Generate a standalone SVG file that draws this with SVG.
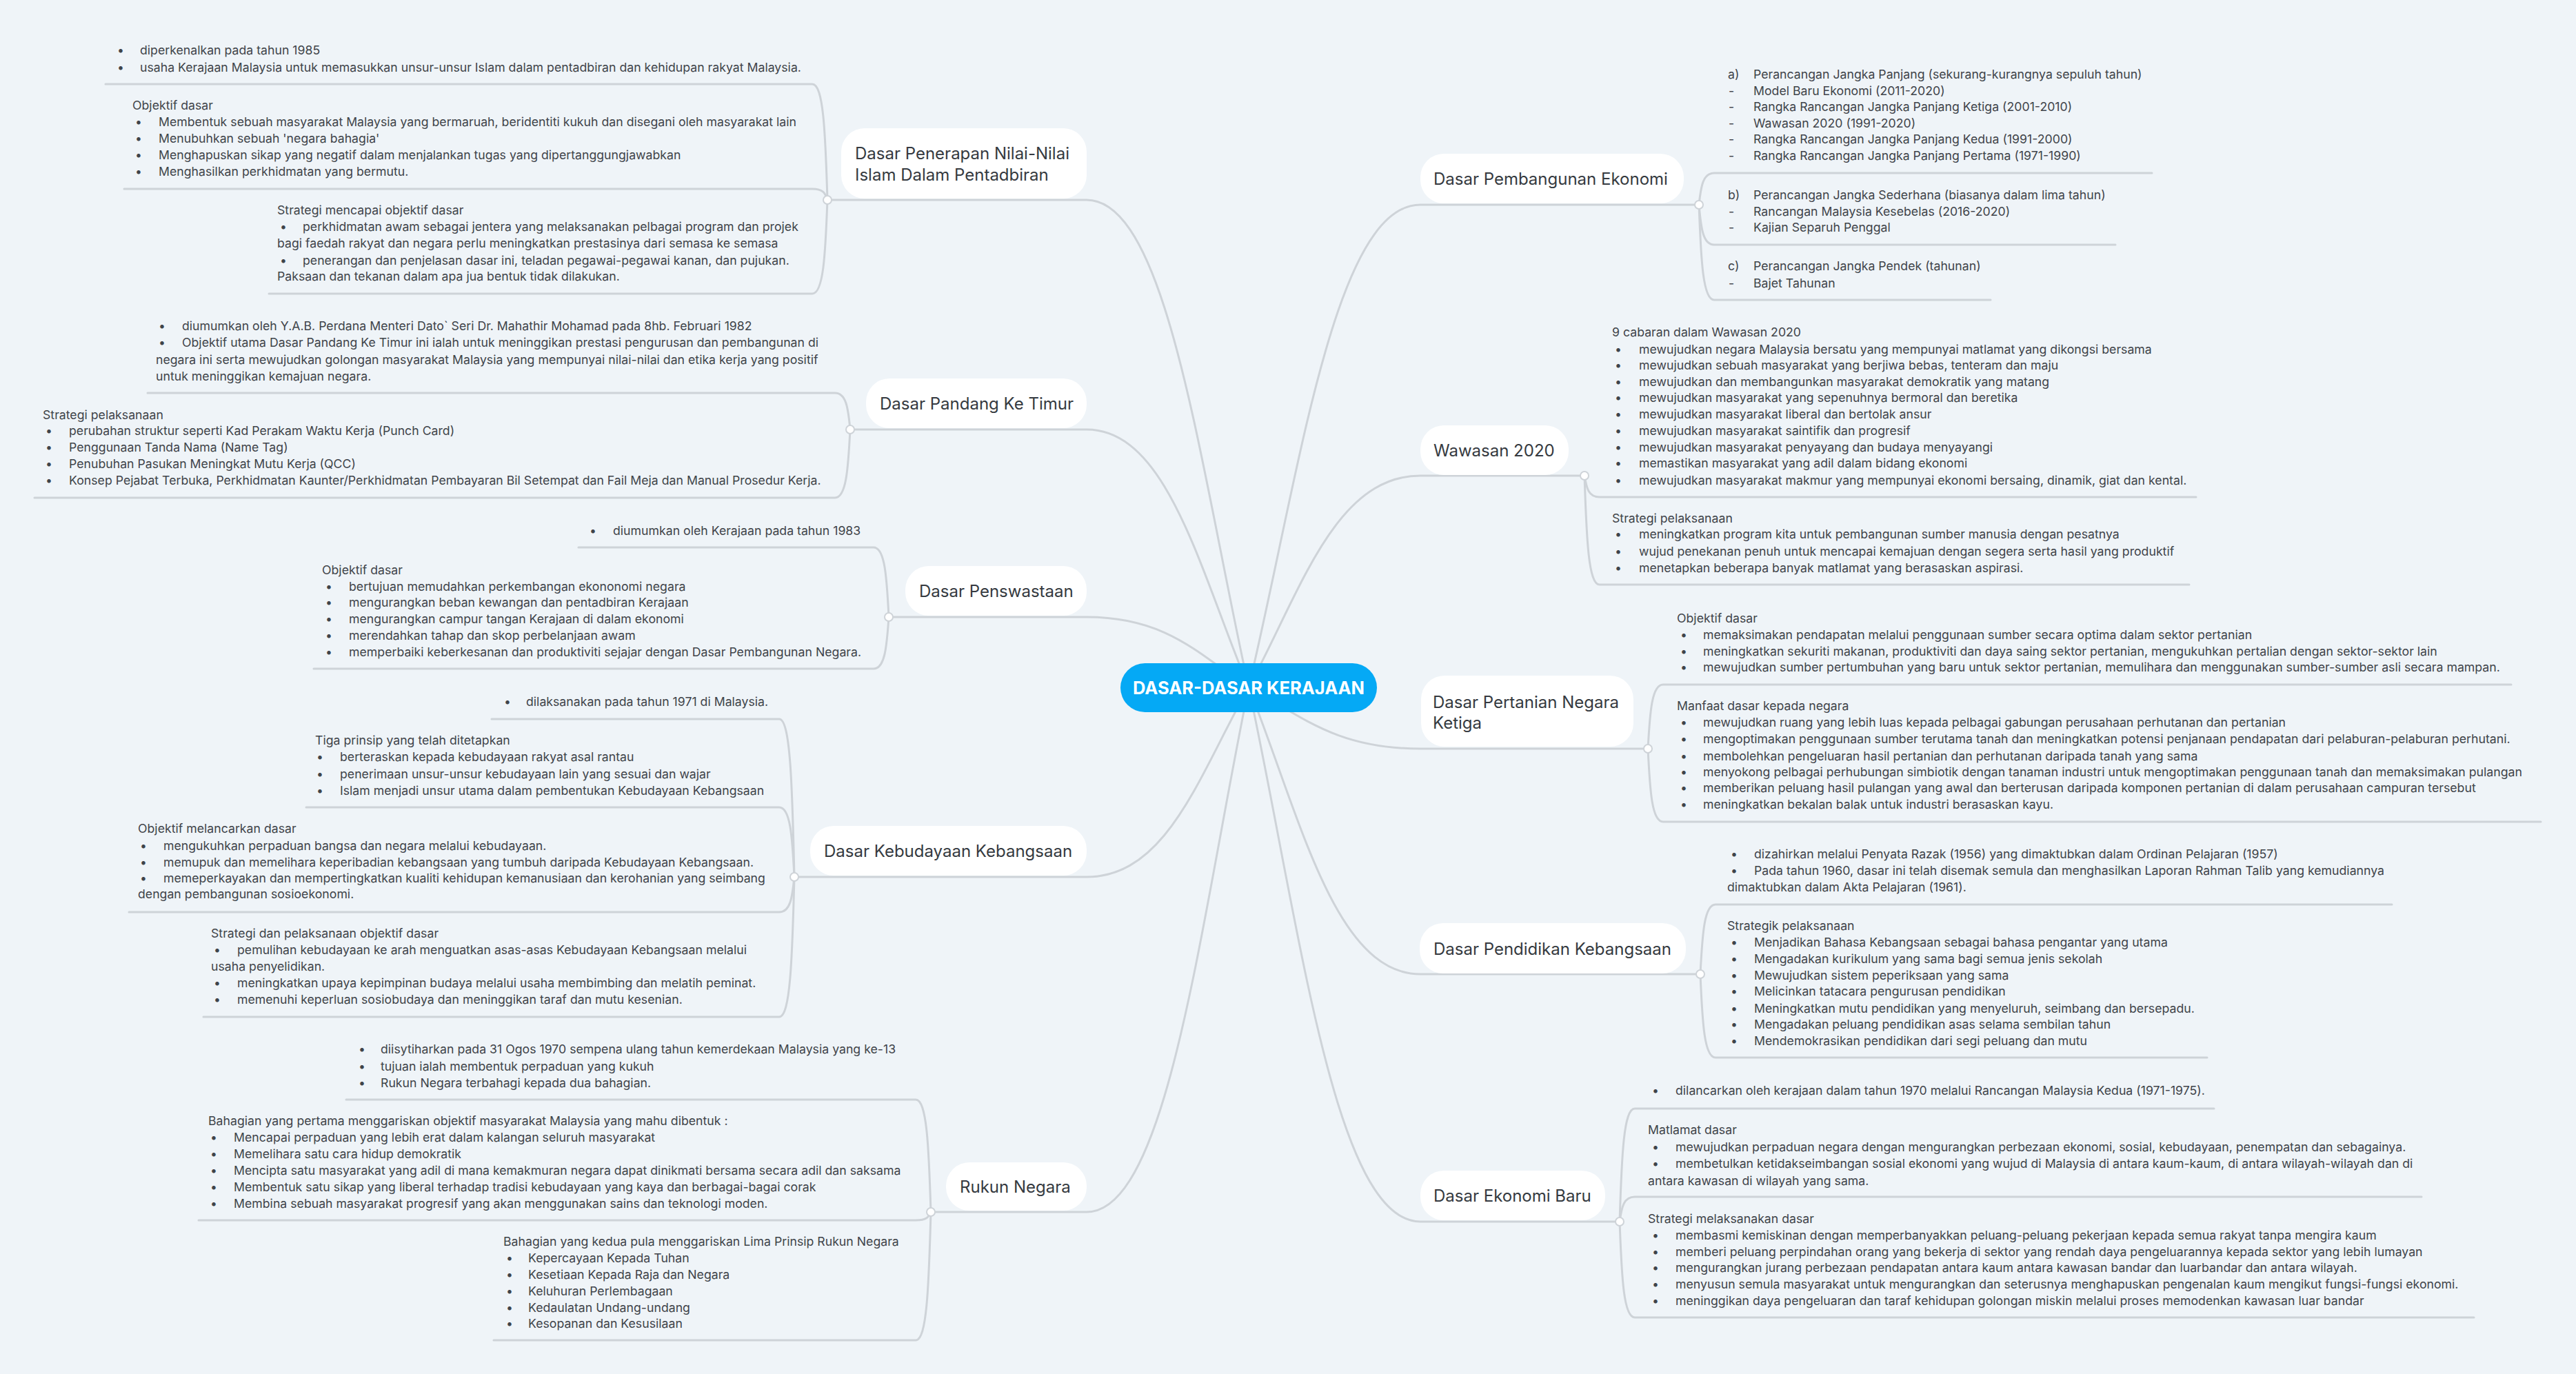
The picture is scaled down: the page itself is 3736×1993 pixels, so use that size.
<svg xmlns="http://www.w3.org/2000/svg" width="3736" height="1993" viewBox="0 0 3736 1993">
<style>
.ln{fill:none;stroke:#CED3D8;stroke-width:3;stroke-linecap:round}
.dot{fill:#FFFFFF;stroke:#CED3D8;stroke-width:2}
.box{fill:#FFFFFF}
.nt{font-family:Inter,'Noto Sans','Liberation Sans',sans-serif;font-size:24px;fill:#353A40}
.t{font-family:Inter,'Noto Sans','Liberation Sans',sans-serif;font-size:17.7px;fill:#3F444A}
.ct{font-family:Inter,'Noto Sans','Liberation Sans',sans-serif;font-size:25.5px;font-weight:700;fill:#FFFFFF}
</style>
<rect x="0" y="0" width="3736" height="1993" fill="#EFF4F8"/>
<g id="connectors">
<path class="ln" d="M1811 997 C1740.5 678.9 1693.5 290 1576 290 H1206"/>
<path class="ln" d="M1811 997 C1740.5 828.7 1693.5 623 1576 623 H1239"/>
<path class="ln" d="M1811 997 C1740.5 951.1 1693.5 895 1576 895 H1295"/>
<path class="ln" d="M1811 997 C1740.5 1120.8 1693.5 1272 1576 1272 H1158"/>
<path class="ln" d="M1811 997 C1740.5 1339.5 1693.5 1758 1576 1758 H1356"/>
<path class="ln" d="M1811 997 C1885.7 682 1935.5 297 2060 297 H2458"/>
<path class="ln" d="M1811 997 C1885.7 858.9 1935.5 690 2060 690 H2292"/>
<path class="ln" d="M1811 997 C1885.7 1037 1935.5 1086 2060 1086 H2384"/>
<path class="ln" d="M1811 997 C1885.7 1184.2 1935.5 1413 2060 1413 H2460"/>
<path class="ln" d="M1811 997 C1885.7 1345.8 1935.5 1772 2060 1772 H2343"/>
<path class="ln" d="M1200 290 C1197 189.2 1194 122 1178 122 H153"/>
<path class="ln" d="M1200 290 C1197 280.4 1194 274 1178 274 H180"/>
<path class="ln" d="M1200 290 C1197 371.6 1194 426 1178 426 H390"/>
<path class="ln" d="M1233 623 C1230 591.2 1227 570 1211 570 H214"/>
<path class="ln" d="M1233 623 C1230 682.4 1227 722 1211 722 H50"/>
<path class="ln" d="M1289 895 C1286 834.4 1283 794 1267 794 H839"/>
<path class="ln" d="M1289 895 C1286 940 1283 970 1267 970 H455"/>
<path class="ln" d="M1152 1272 C1149 1134.6 1146 1043 1130 1043 H713"/>
<path class="ln" d="M1152 1272 C1149 1211.4 1146 1171 1130 1171 H444"/>
<path class="ln" d="M1152 1272 C1149 1302.6 1146 1323 1130 1323 H187"/>
<path class="ln" d="M1152 1272 C1149 1393.8 1146 1475 1130 1475 H295"/>
<path class="ln" d="M1350 1758 C1347 1660.2 1344 1595 1328 1595 H502"/>
<path class="ln" d="M1350 1758 C1347 1765.2 1344 1770 1328 1770 H288"/>
<path class="ln" d="M1350 1758 C1347 1869.6 1344 1944 1328 1944 H716"/>
<path class="ln" d="M2464 297 C2467 269.4 2470 251 2486 251 H3121"/>
<path class="ln" d="M2464 297 C2467 331.8 2470 355 2486 355 H3068"/>
<path class="ln" d="M2464 297 C2467 379.8 2470 435 2486 435 H2887"/>
<path class="ln" d="M2298 690 C2301 708.6 2304 721 2320 721 H3185"/>
<path class="ln" d="M2298 690 C2301 784.8 2304 848 2320 848 H3175"/>
<path class="ln" d="M2390 1086 C2393 1030.2 2396 993 2412 993 H3642"/>
<path class="ln" d="M2390 1086 C2393 1149.6 2396 1192 2412 1192 H3685"/>
<path class="ln" d="M2466 1413 C2469 1352.4 2472 1312 2488 1312 H3469"/>
<path class="ln" d="M2466 1413 C2469 1485.6 2472 1534 2488 1534 H3201"/>
<path class="ln" d="M2349 1772 C2352 1673.6 2355 1608 2371 1608 H3211"/>
<path class="ln" d="M2349 1772 C2352 1750.4 2355 1736 2371 1736 H3512"/>
<path class="ln" d="M2349 1772 C2352 1855.4 2355 1911 2371 1911 H3588"/>
<circle class="dot" cx="1200" cy="290" r="6"/>
<circle class="dot" cx="1233" cy="623" r="6"/>
<circle class="dot" cx="1289" cy="895" r="6"/>
<circle class="dot" cx="1152" cy="1272" r="6"/>
<circle class="dot" cx="1350" cy="1758" r="6"/>
<circle class="dot" cx="2464" cy="297" r="6"/>
<circle class="dot" cx="2298" cy="690" r="6"/>
<circle class="dot" cx="2390" cy="1086" r="6"/>
<circle class="dot" cx="2466" cy="1413" r="6"/>
<circle class="dot" cx="2349" cy="1772" r="6"/>
</g>
<g id="center">
<rect x="1625" y="962" width="372" height="71" rx="35.5" fill="#05A9F5"/>
<text class="ct" x="1811" y="1007" text-anchor="middle">DASAR-DASAR KERAJAAN</text>
</g>
<g id="n-penerapan">
<rect class="box" x="1220" y="186" width="356" height="102" rx="34"/>
<text class="nt" x="1240" y="231">Dasar Penerapan Nilai-Nilai</text>
<text class="nt" x="1240" y="262">Islam Dalam Pentadbiran</text>
</g>
<g id="n-pandang">
<rect class="box" x="1256" y="549" width="320" height="72" rx="34"/>
<text class="nt" x="1276" y="594">Dasar Pandang Ke Timur</text>
</g>
<g id="n-penswastaan">
<rect class="box" x="1313" y="821" width="263" height="72" rx="34"/>
<text class="nt" x="1333" y="866">Dasar Penswastaan</text>
</g>
<g id="n-kebudayaan">
<rect class="box" x="1175" y="1198" width="401" height="72" rx="34"/>
<text class="nt" x="1195" y="1243">Dasar Kebudayaan Kebangsaan</text>
</g>
<g id="n-rukun">
<rect class="box" x="1372" y="1686" width="204" height="70" rx="34"/>
<text class="nt" x="1392" y="1730">Rukun Negara</text>
</g>
<g id="n-ekonomi">
<rect class="box" x="2060" y="223" width="382" height="72" rx="34"/>
<text class="nt" x="2079" y="268">Dasar Pembangunan Ekonomi</text>
</g>
<g id="n-wawasan">
<rect class="box" x="2060" y="617" width="215" height="72" rx="34"/>
<text class="nt" x="2079" y="662">Wawasan 2020</text>
</g>
<g id="n-pertanian">
<rect class="box" x="2061" y="980" width="308" height="103" rx="34"/>
<text class="nt" x="2078" y="1027">Dasar Pertanian Negara</text>
<text class="nt" x="2078" y="1057">Ketiga</text>
</g>
<g id="n-pendidikan">
<rect class="box" x="2059" y="1339" width="386" height="73" rx="34"/>
<text class="nt" x="2079" y="1385">Dasar Pendidikan Kebangsaan</text>
</g>
<g id="n-ekonomibaru">
<rect class="box" x="2060" y="1698" width="268" height="72" rx="34"/>
<text class="nt" x="2079" y="1743">Dasar Ekonomi Baru</text>
</g>
<g id="c-penerapan-1" class="t">
<text y="79"><tspan x="170">•</tspan><tspan x="203">diperkenalkan pada tahun 1985</tspan></text>
<text y="104"><tspan x="170">•</tspan><tspan x="203">usaha Kerajaan Malaysia untuk memasukkan unsur-unsur Islam dalam pentadbiran dan kehidupan rakyat Malaysia.</tspan></text>
</g>
<g id="c-penerapan-2" class="t">
<text x="192" y="159">Objektif dasar</text>
<text y="183"><tspan x="196">•</tspan><tspan x="230">Membentuk sebuah masyarakat Malaysia yang bermaruah, beridentiti kukuh dan disegani oleh masyarakat lain</tspan></text>
<text y="207"><tspan x="196">•</tspan><tspan x="230">Menubuhkan sebuah 'negara bahagia'</tspan></text>
<text y="231"><tspan x="196">•</tspan><tspan x="230">Menghapuskan sikap yang negatif dalam menjalankan tugas yang dipertanggungjawabkan</tspan></text>
<text y="255"><tspan x="196">•</tspan><tspan x="230">Menghasilkan perkhidmatan yang bermutu.</tspan></text>
</g>
<g id="c-penerapan-3" class="t">
<text x="402" y="311">Strategi mencapai objektif dasar</text>
<text y="335"><tspan x="406">•</tspan><tspan x="439">perkhidmatan awam sebagai jentera yang melaksanakan pelbagai program dan projek</tspan></text>
<text x="402" y="359">bagi faedah rakyat dan negara perlu meningkatkan prestasinya dari semasa ke semasa</text>
<text y="384"><tspan x="406">•</tspan><tspan x="439">penerangan dan penjelasan dasar ini, teladan pegawai-pegawai kanan, dan pujukan.</tspan></text>
<text x="402" y="407">Paksaan dan tekanan dalam apa jua bentuk tidak dilakukan.</text>
</g>
<g id="c-pandang-1" class="t">
<text y="479"><tspan x="230">•</tspan><tspan x="264">diumumkan oleh Y.A.B. Perdana Menteri Dato` Seri Dr. Mahathir Mohamad pada 8hb. Februari 1982</tspan></text>
<text y="503"><tspan x="230">•</tspan><tspan x="264">Objektif utama Dasar Pandang Ke Timur ini ialah untuk meninggikan prestasi pengurusan dan pembangunan di</tspan></text>
<text x="226" y="528">negara ini serta mewujudkan golongan masyarakat Malaysia yang mempunyai nilai-nilai dan etika kerja yang positif</text>
<text x="226" y="552">untuk meninggikan kemajuan negara.</text>
</g>
<g id="c-pandang-2" class="t">
<text x="62" y="608">Strategi pelaksanaan</text>
<text y="631"><tspan x="66">•</tspan><tspan x="100">perubahan struktur seperti Kad Perakam Waktu Kerja (Punch Card)</tspan></text>
<text y="655"><tspan x="66">•</tspan><tspan x="100">Penggunaan Tanda Nama (Name Tag)</tspan></text>
<text y="679"><tspan x="66">•</tspan><tspan x="100">Penubuhan Pasukan Meningkat Mutu Kerja (QCC)</tspan></text>
<text y="703"><tspan x="66">•</tspan><tspan x="100">Konsep Pejabat Terbuka, Perkhidmatan Kaunter/Perkhidmatan Pembayaran Bil Setempat dan Fail Meja dan Manual Prosedur Kerja.</tspan></text>
</g>
<g id="c-penswastaan-1" class="t">
<text y="776"><tspan x="855">•</tspan><tspan x="889">diumumkan oleh Kerajaan pada tahun 1983</tspan></text>
</g>
<g id="c-penswastaan-2" class="t">
<text x="467" y="833">Objektif dasar</text>
<text y="857"><tspan x="472">•</tspan><tspan x="506">bertujuan memudahkan perkembangan ekononomi negara</tspan></text>
<text y="880"><tspan x="472">•</tspan><tspan x="506">mengurangkan beban kewangan dan pentadbiran Kerajaan</tspan></text>
<text y="904"><tspan x="472">•</tspan><tspan x="506">mengurangkan campur tangan Kerajaan di dalam ekonomi</tspan></text>
<text y="928"><tspan x="472">•</tspan><tspan x="506">merendahkan tahap dan skop perbelanjaan awam</tspan></text>
<text y="952"><tspan x="472">•</tspan><tspan x="506">memperbaiki keberkesanan dan produktiviti sejajar dengan Dasar Pembangunan Negara.</tspan></text>
</g>
<g id="c-kebudayaan-1" class="t">
<text y="1024"><tspan x="731">•</tspan><tspan x="763">dilaksanakan pada tahun 1971 di Malaysia.</tspan></text>
</g>
<g id="c-kebudayaan-2" class="t">
<text x="457" y="1080">Tiga prinsip yang telah ditetapkan</text>
<text y="1104"><tspan x="459">•</tspan><tspan x="493">berteraskan kepada kebudayaan rakyat asal rantau</tspan></text>
<text y="1129"><tspan x="459">•</tspan><tspan x="493">penerimaan unsur-unsur kebudayaan lain yang sesuai dan wajar</tspan></text>
<text y="1153"><tspan x="459">•</tspan><tspan x="493">Islam menjadi unsur utama dalam pembentukan Kebudayaan Kebangsaan</tspan></text>
</g>
<g id="c-kebudayaan-3" class="t">
<text x="200" y="1208">Objektif melancarkan dasar</text>
<text y="1233"><tspan x="203">•</tspan><tspan x="237">mengukuhkan perpaduan bangsa dan negara melalui kebudayaan.</tspan></text>
<text y="1257"><tspan x="203">•</tspan><tspan x="237">memupuk dan memelihara keperibadian kebangsaan yang tumbuh daripada Kebudayaan Kebangsaan.</tspan></text>
<text y="1280"><tspan x="203">•</tspan><tspan x="237">memeperkayakan dan mempertingkatkan kualiti kehidupan kemanusiaan dan kerohanian yang seimbang</tspan></text>
<text x="200" y="1303">dengan pembangunan sosioekonomi.</text>
</g>
<g id="c-kebudayaan-4" class="t">
<text x="306" y="1360">Strategi dan pelaksanaan objektif dasar</text>
<text y="1384"><tspan x="310">•</tspan><tspan x="344">pemulihan kebudayaan ke arah menguatkan asas-asas Kebudayaan Kebangsaan melalui</tspan></text>
<text x="306" y="1408">usaha penyelidikan.</text>
<text y="1432"><tspan x="310">•</tspan><tspan x="344">meningkatkan upaya kepimpinan budaya melalui usaha membimbing dan melatih peminat.</tspan></text>
<text y="1456"><tspan x="310">•</tspan><tspan x="344">memenuhi keperluan sosiobudaya dan meninggikan taraf dan mutu kesenian.</tspan></text>
</g>
<g id="c-rukun-1" class="t">
<text y="1528"><tspan x="520">•</tspan><tspan x="552">diisytiharkan pada 31 Ogos 1970 sempena ulang tahun kemerdekaan Malaysia yang ke-13</tspan></text>
<text y="1553"><tspan x="520">•</tspan><tspan x="552">tujuan ialah membentuk perpaduan yang kukuh</tspan></text>
<text y="1577"><tspan x="520">•</tspan><tspan x="552">Rukun Negara terbahagi kepada dua bahagian.</tspan></text>
</g>
<g id="c-rukun-2" class="t">
<text x="302" y="1632">Bahagian yang pertama menggariskan objektif masyarakat Malaysia yang mahu dibentuk :</text>
<text y="1656"><tspan x="305">•</tspan><tspan x="339">Mencapai perpaduan yang lebih erat dalam kalangan seluruh masyarakat</tspan></text>
<text y="1680"><tspan x="305">•</tspan><tspan x="339">Memelihara satu cara hidup demokratik</tspan></text>
<text y="1704"><tspan x="305">•</tspan><tspan x="339">Mencipta satu masyarakat yang adil di mana kemakmuran negara dapat dinikmati bersama secara adil dan saksama</tspan></text>
<text y="1728"><tspan x="305">•</tspan><tspan x="339">Membentuk satu sikap yang liberal terhadap tradisi kebudayaan yang kaya dan berbagai-bagai corak</tspan></text>
<text y="1752"><tspan x="305">•</tspan><tspan x="339">Membina sebuah masyarakat progresif yang akan menggunakan sains dan teknologi moden.</tspan></text>
</g>
<g id="c-rukun-3" class="t">
<text x="730" y="1807">Bahagian yang kedua pula menggariskan Lima Prinsip Rukun Negara</text>
<text y="1831"><tspan x="734">•</tspan><tspan x="766">Kepercayaan Kepada Tuhan</tspan></text>
<text y="1855"><tspan x="734">•</tspan><tspan x="766">Kesetiaan Kepada Raja dan Negara</tspan></text>
<text y="1879"><tspan x="734">•</tspan><tspan x="766">Keluhuran Perlembagaan</tspan></text>
<text y="1903"><tspan x="734">•</tspan><tspan x="766">Kedaulatan Undang-undang</tspan></text>
<text y="1926"><tspan x="734">•</tspan><tspan x="766">Kesopanan dan Kesusilaan</tspan></text>
</g>
<g id="c-ekonomi-1" class="t">
<text y="114"><tspan x="2506">a)</tspan><tspan x="2543">Perancangan Jangka Panjang (sekurang-kurangnya sepuluh tahun)</tspan></text>
<text y="138"><tspan x="2507">-</tspan><tspan x="2543">Model Baru Ekonomi (2011-2020)</tspan></text>
<text y="161"><tspan x="2507">-</tspan><tspan x="2543">Rangka Rancangan Jangka Panjang Ketiga (2001-2010)</tspan></text>
<text y="185"><tspan x="2507">-</tspan><tspan x="2543">Wawasan 2020 (1991-2020)</tspan></text>
<text y="208"><tspan x="2507">-</tspan><tspan x="2543">Rangka Rancangan Jangka Panjang Kedua (1991-2000)</tspan></text>
<text y="232"><tspan x="2507">-</tspan><tspan x="2543">Rangka Rancangan Jangka Panjang Pertama (1971-1990)</tspan></text>
</g>
<g id="c-ekonomi-2" class="t">
<text y="289"><tspan x="2506">b)</tspan><tspan x="2543">Perancangan Jangka Sederhana (biasanya dalam lima tahun)</tspan></text>
<text y="313"><tspan x="2507">-</tspan><tspan x="2543">Rancangan Malaysia Kesebelas (2016-2020)</tspan></text>
<text y="336"><tspan x="2507">-</tspan><tspan x="2543">Kajian Separuh Penggal</tspan></text>
</g>
<g id="c-ekonomi-3" class="t">
<text y="392"><tspan x="2506">c)</tspan><tspan x="2543">Perancangan Jangka Pendek (tahunan)</tspan></text>
<text y="417"><tspan x="2507">-</tspan><tspan x="2543">Bajet Tahunan</tspan></text>
</g>
<g id="c-wawasan-1" class="t">
<text x="2338" y="488">9 cabaran dalam Wawasan 2020</text>
<text y="513"><tspan x="2342">•</tspan><tspan x="2377">mewujudkan negara Malaysia bersatu yang mempunyai matlamat yang dikongsi bersama</tspan></text>
<text y="536"><tspan x="2342">•</tspan><tspan x="2377">mewujudkan sebuah masyarakat yang berjiwa bebas, tenteram dan maju</tspan></text>
<text y="560"><tspan x="2342">•</tspan><tspan x="2377">mewujudkan dan membangunkan masyarakat demokratik yang matang</tspan></text>
<text y="583"><tspan x="2342">•</tspan><tspan x="2377">mewujudkan masyarakat yang sepenuhnya bermoral dan beretika</tspan></text>
<text y="607"><tspan x="2342">•</tspan><tspan x="2377">mewujudkan masyarakat liberal dan bertolak ansur</tspan></text>
<text y="631"><tspan x="2342">•</tspan><tspan x="2377">mewujudkan masyarakat saintifik dan progresif</tspan></text>
<text y="655"><tspan x="2342">•</tspan><tspan x="2377">mewujudkan masyarakat penyayang dan budaya menyayangi</tspan></text>
<text y="678"><tspan x="2342">•</tspan><tspan x="2377">memastikan masyarakat yang adil dalam bidang ekonomi</tspan></text>
<text y="703"><tspan x="2342">•</tspan><tspan x="2377">mewujudkan masyarakat makmur yang mempunyai ekonomi bersaing, dinamik, giat dan kental.</tspan></text>
</g>
<g id="c-wawasan-2" class="t">
<text x="2338" y="758">Strategi pelaksanaan</text>
<text y="781"><tspan x="2342">•</tspan><tspan x="2377">meningkatkan program kita untuk pembangunan sumber manusia dengan pesatnya</tspan></text>
<text y="806"><tspan x="2342">•</tspan><tspan x="2377">wujud penekanan penuh untuk mencapai kemajuan dengan segera serta hasil yang produktif</tspan></text>
<text y="830"><tspan x="2342">•</tspan><tspan x="2377">menetapkan beberapa banyak matlamat yang berasaskan aspirasi.</tspan></text>
</g>
<g id="c-pertanian-1" class="t">
<text x="2432" y="903">Objektif dasar</text>
<text y="927"><tspan x="2437">•</tspan><tspan x="2470">memaksimakan pendapatan melalui penggunaan sumber secara optima dalam sektor pertanian</tspan></text>
<text y="951"><tspan x="2437">•</tspan><tspan x="2470">meningkatkan sekuriti makanan, produktiviti dan daya saing sektor pertanian, mengukuhkan pertalian dengan sektor-sektor lain</tspan></text>
<text y="974"><tspan x="2437">•</tspan><tspan x="2470">mewujudkan sumber pertumbuhan yang baru untuk sektor pertanian, memulihara dan menggunakan sumber-sumber asli secara mampan.</tspan></text>
</g>
<g id="c-pertanian-2" class="t">
<text x="2432" y="1030">Manfaat dasar kepada negara</text>
<text y="1054"><tspan x="2437">•</tspan><tspan x="2470">mewujudkan ruang yang lebih luas kepada pelbagai gabungan perusahaan perhutanan dan pertanian</tspan></text>
<text y="1078"><tspan x="2437">•</tspan><tspan x="2470">mengoptimakan penggunaan sumber terutama tanah dan meningkatkan potensi penjanaan pendapatan dari pelaburan-pelaburan perhutani.</tspan></text>
<text y="1103"><tspan x="2437">•</tspan><tspan x="2470">membolehkan pengeluaran hasil pertanian dan perhutanan daripada tanah yang sama</tspan></text>
<text y="1126"><tspan x="2437">•</tspan><tspan x="2470">menyokong pelbagai perhubungan simbiotik dengan tanaman industri untuk mengoptimakan penggunaan tanah dan memaksimakan pulangan</tspan></text>
<text y="1149"><tspan x="2437">•</tspan><tspan x="2470">memberikan peluang hasil pulangan yang awal dan berterusan daripada komponen pertanian di dalam perusahaan campuran tersebut</tspan></text>
<text y="1173"><tspan x="2437">•</tspan><tspan x="2470">meningkatkan bekalan balak untuk industri berasaskan kayu.</tspan></text>
</g>
<g id="c-pendidikan-1" class="t">
<text y="1245"><tspan x="2510">•</tspan><tspan x="2544">dizahirkan melalui Penyata Razak (1956) yang dimaktubkan dalam Ordinan Pelajaran (1957)</tspan></text>
<text y="1269"><tspan x="2510">•</tspan><tspan x="2544">Pada tahun 1960, dasar ini telah disemak semula dan menghasilkan Laporan Rahman Talib yang kemudiannya</tspan></text>
<text x="2505" y="1293">dimaktubkan dalam Akta Pelajaran (1961).</text>
</g>
<g id="c-pendidikan-2" class="t">
<text x="2505" y="1349">Strategik pelaksanaan</text>
<text y="1373"><tspan x="2510">•</tspan><tspan x="2544">Menjadikan Bahasa Kebangsaan sebagai bahasa pengantar yang utama</tspan></text>
<text y="1397"><tspan x="2510">•</tspan><tspan x="2544">Mengadakan kurikulum yang sama bagi semua jenis sekolah</tspan></text>
<text y="1421"><tspan x="2510">•</tspan><tspan x="2544">Mewujudkan sistem peperiksaan yang sama</tspan></text>
<text y="1444"><tspan x="2510">•</tspan><tspan x="2544">Melicinkan tatacara pengurusan pendidikan</tspan></text>
<text y="1469"><tspan x="2510">•</tspan><tspan x="2544">Meningkatkan mutu pendidikan yang menyeluruh, seimbang dan bersepadu.</tspan></text>
<text y="1492"><tspan x="2510">•</tspan><tspan x="2544">Mengadakan peluang pendidikan asas selama sembilan tahun</tspan></text>
<text y="1516"><tspan x="2510">•</tspan><tspan x="2544">Mendemokrasikan pendidikan dari segi peluang dan mutu</tspan></text>
</g>
<g id="c-ekonomibaru-1" class="t">
<text y="1588"><tspan x="2396">•</tspan><tspan x="2430">dilancarkan oleh kerajaan dalam tahun 1970 melalui Rancangan Malaysia Kedua (1971-1975).</tspan></text>
</g>
<g id="c-ekonomibaru-2" class="t">
<text x="2390" y="1645">Matlamat dasar</text>
<text y="1670"><tspan x="2396">•</tspan><tspan x="2430">mewujudkan perpaduan negara dengan mengurangkan perbezaan ekonomi, sosial, kebudayaan, penempatan dan sebagainya.</tspan></text>
<text y="1694"><tspan x="2396">•</tspan><tspan x="2430">membetulkan ketidakseimbangan sosial ekonomi yang wujud di Malaysia di antara kaum-kaum, di antara wilayah-wilayah dan di</tspan></text>
<text x="2390" y="1719">antara kawasan di wilayah yang sama.</text>
</g>
<g id="c-ekonomibaru-3" class="t">
<text x="2390" y="1774">Strategi melaksanakan dasar</text>
<text y="1798"><tspan x="2396">•</tspan><tspan x="2430">membasmi kemiskinan dengan memperbanyakkan peluang-peluang pekerjaan kepada semua rakyat tanpa mengira kaum</tspan></text>
<text y="1822"><tspan x="2396">•</tspan><tspan x="2430">memberi peluang perpindahan orang yang bekerja di sektor yang rendah daya pengeluarannya kepada sektor yang lebih lumayan</tspan></text>
<text y="1845"><tspan x="2396">•</tspan><tspan x="2430">mengurangkan jurang perbezaan pendapatan antara kaum antara kawasan bandar dan luarbandar dan antara wilayah.</tspan></text>
<text y="1869"><tspan x="2396">•</tspan><tspan x="2430">menyusun semula masyarakat untuk mengurangkan dan seterusnya menghapuskan pengenalan kaum mengikut fungsi-fungsi ekonomi.</tspan></text>
<text y="1893"><tspan x="2396">•</tspan><tspan x="2430">meninggikan daya pengeluaran dan taraf kehidupan golongan miskin melalui proses memodenkan kawasan luar bandar</tspan></text>
</g>
</svg>
